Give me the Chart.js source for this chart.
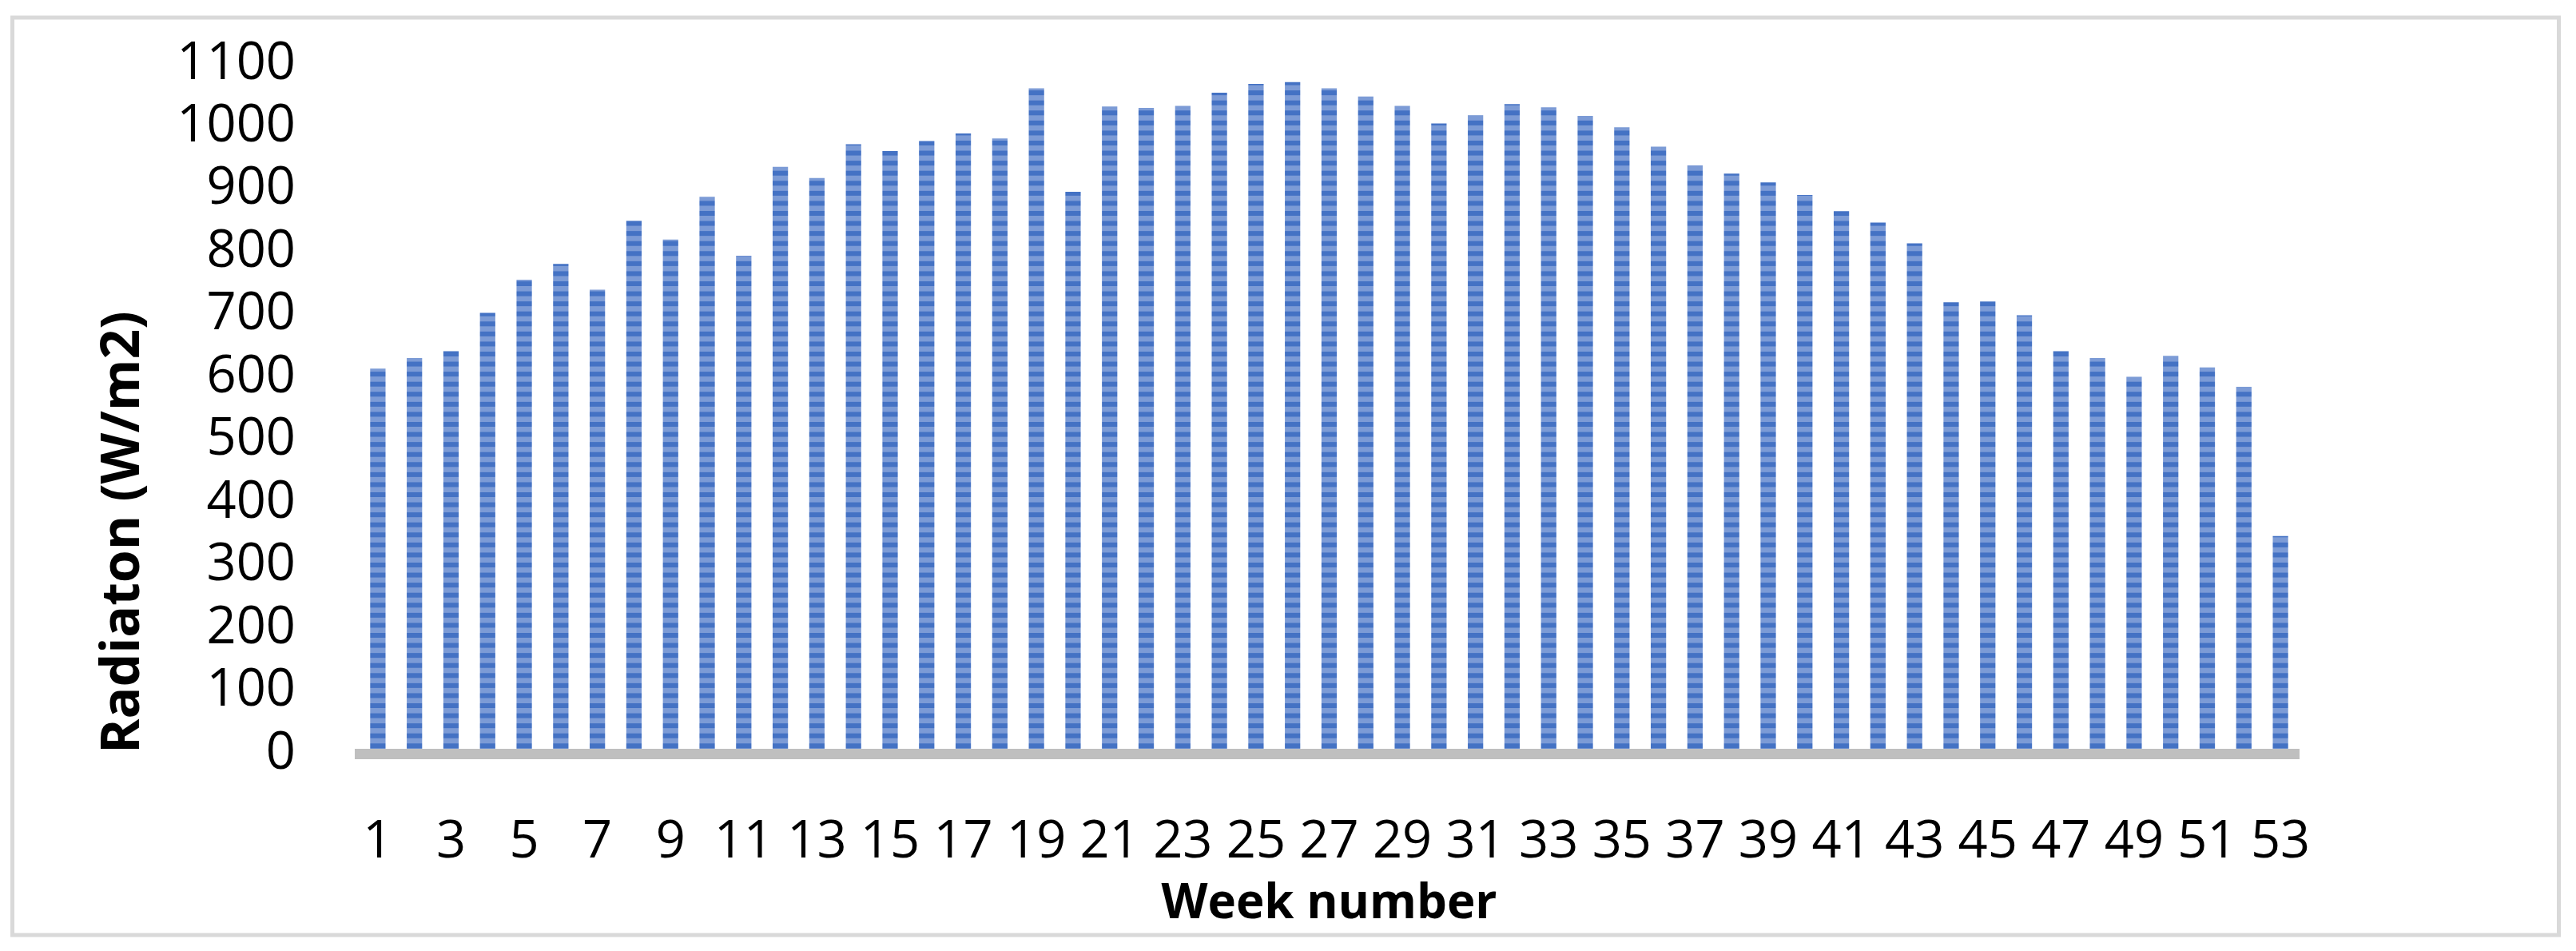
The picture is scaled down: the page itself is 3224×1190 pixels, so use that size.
<!DOCTYPE html>
<html>
<head>
<meta charset="utf-8">
<script src="https://cdn.jsdelivr.net/npm/chart.js@4/dist/chart.umd.min.js"></script>
<style>
  html, body { margin: 0; padding: 0; background: #fff; overflow: hidden; }
  #wrap { width: 3224px; height: 1190px; position: relative; }
</style>
</head>
<body>
<div id="wrap"><canvas id="radChart"></canvas></div>
<script>
// weeks 1..53
var weeks = [];
for (var w = 1; w <= 53; w++) weeks.push(String(w));

// weekly radiation, W/m2
var radiation = [
  614, 631, 642, 703, 756, 781, 740, 850, 820, 888,
  794, 936, 918, 972, 961, 977, 989, 981, 1061, 896,
  1032, 1030, 1033, 1054, 1068, 1071, 1061, 1048, 1033, 1005,
  1018, 1036, 1031, 1017, 999, 968, 938, 925, 911, 891,
  865, 847, 814, 720, 721, 699, 642, 631, 601, 634,
  616, 585, 347
];

var yMin = 0, yMax = 1100, yStep = 100;

var fontFam = "'Open Sans', 'Noto Sans', sans-serif";

// horizontal striped fill like the original bars
function stripePattern() {
  var c = document.createElement('canvas');
  c.width = 8;
  c.height = 88;
  var g = c.getContext('2d');
  g.fillStyle = '#7c9bd6';
  g.fillRect(0, 0, 8, 88);
  g.fillStyle = '#4472c4';
  for (var i = 0; i < 7; i++) {
    g.fillRect(0, i * 88 / 7, 8, 6);
  }
  return g.createPattern(c, 'repeat');
}

// white background + light grey frame round the whole chart
var framePlugin = {
  id: 'frame',
  beforeDraw: function(chart) {
    var ctx = chart.ctx;
    ctx.save();
    ctx.fillStyle = '#fff';
    ctx.fillRect(0, 0, chart.width, chart.height);
    ctx.strokeStyle = '#d9d9d9';
    ctx.lineWidth = 5;
    ctx.strokeRect(15.5, 22, 3187, 1148);
    ctx.restore();
  }
};

var radChart = new Chart(document.getElementById('radChart'), {
  type: 'bar',
  data: {
    labels: weeks,
    datasets: [{
      label: 'Radiation',
      data: radiation,
      backgroundColor: stripePattern(),
      borderWidth: 0,
      categoryPercentage: 1,
      barPercentage: 0.42
    }]
  },
  options: {
    responsive: true,
    maintainAspectRatio: false,
    animation: false,
    layout: {
      padding: { left: 20, right: 347, top: 80, bottom: 0 }
    },
    plugins: {
      legend: { display: false },
      tooltip: { enabled: false }
    },
    scales: {
      x: {
        grid: { display: false },
        border: { display: true, color: '#bfbfbf', width: 13, z: 1 },
        ticks: {
          autoSkip: false,
          maxRotation: 0,
          padding: 64,
          color: '#000',
          font: { family: fontFam, size: 65 },
          callback: function(val, idx) {
            return idx % 2 === 0 ? this.getLabelForValue(val) : '';
          }
        },
        title: {
          display: true,
          text: 'Week number',
          color: '#000',
          font: { family: fontFam, size: 60, weight: 'bold' },
          padding: { top: 0, bottom: 22 }
        },
        afterFit: function(s) {
          s.height = 247;
          s.paddingLeft = 0;
          s.paddingRight = 0;
        }
      },
      y: {
        min: yMin,
        max: yMax,
        grid: { display: false },
        border: { display: false },
        ticks: {
          stepSize: yStep,
          autoSkip: false,
          padding: 72,
          color: '#000',
          font: { family: fontFam, size: 65, lineHeight: 1 },
          callback: function(val) { return String(val); }
        },
        title: {
          display: true,
          text: 'Radiaton (W/m2)',
          align: 'start',
          color: '#000',
          font: { family: fontFam, size: 66, weight: 'bold' },
          padding: { top: 96, bottom: 0 }
        },
        afterFit: function(s) {
          s.width = 430;
          s.paddingTop = 0;
          s.paddingBottom = 0;
        }
      }
    }
  },
  plugins: [framePlugin]
});
</script>
</body>
</html>
